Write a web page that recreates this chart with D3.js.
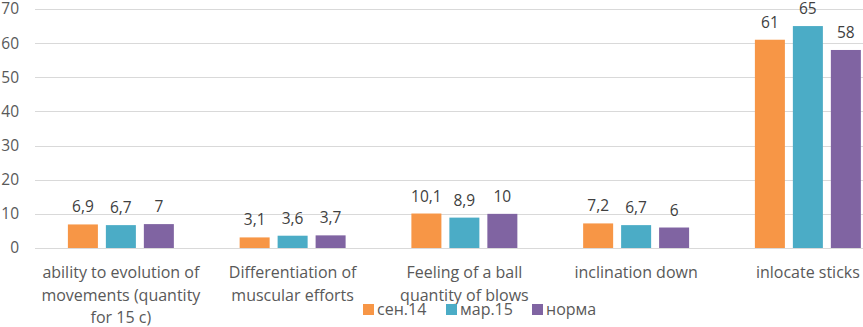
<!DOCTYPE html>
<html>
<head>
<meta charset="utf-8">
<script src="https://cdn.jsdelivr.net/npm/d3@7"></script>
<style>
  html, body { margin: 0; padding: 0; background: #fff; }
  svg { display: block; font-family: 'Open Sans', sans-serif; }
</style>
</head>
<body>
<script>
// data
const categories = ['ability to evolution of movements (quantity for 15 c)', 'Differentiation of muscular efforts', 'Feeling of a ball quantity of blows', 'inclination down', 'inlocate sticks']
const categoryLines = [
  ['ability to evolution of', 'movements (quantity', 'for 15 c)'],
  ['Differentiation of', 'muscular efforts'],
  ['Feeling of a ball', 'quantity of blows'],
  ['inclination down'],
  ['inlocate sticks']
]
const seriesNames = ['сен.14', 'мар.15', 'норма']
const sep14 = [6.9, 3.1, 10.1, 7.2, 61]
const mar15 = [6.7, 3.6, 8.9, 6.7, 65]
const norma = [7, 3.7, 10, 6, 58]
const yTicks = [0, 10, 20, 30, 40, 50, 60, 70]

const seriesValues = [sep14, mar15, norma]
const colors = ['#F79646', '#4BACC6', '#8064A2']

// layout
const width = 863
const height = 327
const left = 35
const step = 171.75
const fmt = v => String(v).replace('.', ',')

const svg = d3.select('body').append('svg')
  .attr('width', width)
  .attr('height', height)

const x = d3.scaleBand()
  .domain(categories)
  .range([left, left + step * categories.length])
  .paddingInner(0.383)
  .paddingOuter(0.1915)

const xInner = d3.scaleBand()
  .domain(seriesNames)
  .range([0, x.bandwidth()])
  .paddingInner(0.21)

const y = d3.scaleLinear()
  .domain([0, 70])
  .range([248, 9])

// gridlines
svg.append('g')
  .selectAll('line')
  .data(yTicks)
  .join('line')
  .attr('x1', left)
  .attr('x2', width)
  .attr('y1', d => Math.round(y(d)) + 0.5)
  .attr('y2', d => Math.round(y(d)) + 0.5)
  .attr('stroke', '#D9D9D9')
  .attr('stroke-width', 1)

// y labels
svg.append('g')
  .selectAll('text')
  .data(yTicks)
  .join('text')
  .attr('x', 19)
  .attr('y', d => y(d))
  .attr('dy', '0.35em')
  .attr('text-anchor', 'end')
  .attr('font-size', 15.5)
  .attr('fill', '#595959')
  .text(d => d)

// bars
const rows = categories.map((c, i) => ({ cat: c, values: seriesNames.map((s, j) => ({ s, j, v: seriesValues[j][i] })) }))

const groups = svg.append('g')
  .selectAll('g')
  .data(rows)
  .join('g')
  .attr('transform', d => `translate(${x(d.cat)},0)`)

groups.selectAll('rect')
  .data(d => d.values)
  .join('rect')
  .attr('x', d => xInner(d.s))
  .attr('width', xInner.bandwidth())
  .attr('y', d => y(d.v))
  .attr('height', d => y(0) - y(d.v))
  .attr('fill', d => colors[d.j])

groups.selectAll('text.val')
  .data(d => d.values)
  .join('text')
  .attr('class', 'val')
  .attr('x', d => xInner(d.s) + xInner.bandwidth() / 2)
  .attr('y', d => y(d.v) - 12)
  .attr('text-anchor', 'middle')
  .attr('font-size', 15.5)
  .attr('fill', '#404040')
  .text(d => fmt(d.v))

// category labels
svg.append('g')
  .selectAll('text')
  .data(categories)
  .join('text')
  .attr('x', d => x(d) + x.bandwidth() / 2)
  .attr('y', 278)
  .attr('text-anchor', 'middle')
  .attr('font-size', 16)
  .attr('fill', '#595959')
  .each(function (d, i) {
    d3.select(this).selectAll('tspan')
      .data(categoryLines[i])
      .join('tspan')
      .attr('x', x(d) + x.bandwidth() / 2)
      .attr('dy', (t, k) => k === 0 ? 0 : 22.5)
      .text(t => t)
  })

// legend
const legendX = [363, 446, 532]
const legend = svg.append('g')
  .selectAll('g')
  .data(seriesNames)
  .join('g')
  .attr('transform', (d, i) => `translate(${legendX[i]},304)`)

legend.append('rect')
  .attr('width', 11)
  .attr('height', 11)
  .attr('fill', (d, i) => colors[i])

legend.append('text')
  .attr('x', 14)
  .attr('y', 11)
  .attr('font-size', 16)
  .attr('fill', '#595959')
  .text(d => d)
</script>
</body>
</html>
